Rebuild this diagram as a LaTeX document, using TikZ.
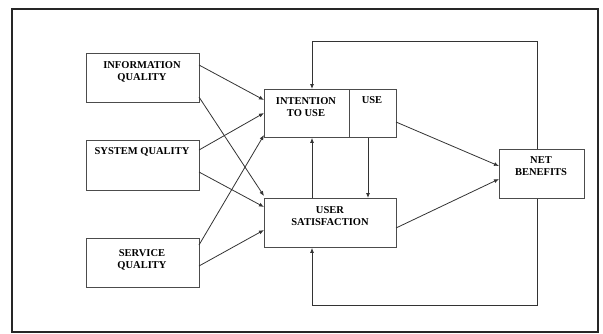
\documentclass[tikz,border=0pt]{standalone}
\usepackage{fontspec}
\setmainfont{Liberation Serif}
\usetikzlibrary{arrows.meta}
\begin{document}
\begin{tikzpicture}[x=1pt,y=-1pt,
  box/.style={draw=black!70,line width=0.9pt,inner sep=0pt},
  lbl/.style={font=\bfseries\fontsize{10.5}{12}\selectfont,align=center},
  arr/.style={draw=black!80,line width=0.8pt,-{Latex[length=5pt,width=4pt]}}]
\useasboundingbox (0,0) rectangle (603,333);
\draw[line width=1.2pt,black!85] (12,9) rectangle (598,332);
% left boxes
\node[box,minimum width=113pt,minimum height=49pt,anchor=north west] (iq) at (86,53) {};
\node[lbl] at (142,72) {INFORMATION\\QUALITY};
\node[box,minimum width=113pt,minimum height=50pt,anchor=north west] (sq) at (86,140) {};
\node[lbl] at (142,152) {SYSTEM QUALITY};
\node[box,minimum width=113pt,minimum height=49pt,anchor=north west] (svq) at (86,238) {};
\node[lbl] at (142,260) {SERVICE\\QUALITY};
% intention / use
\node[box,minimum width=85pt,minimum height=48pt,anchor=north west] (itu) at (264,89) {};
\node[box,minimum width=47pt,minimum height=48pt,anchor=north west] (use) at (349,89) {};
\node[lbl] at (306,107) {INTENTION\\TO USE};
\node[lbl] at (372,100) {USE};
% user satisfaction
\node[box,minimum width=132pt,minimum height=49pt,anchor=north west] (us) at (264,198) {};
\node[lbl] at (330,216) {USER\\SATISFACTION};
% net benefits
\node[box,minimum width=85pt,minimum height=49pt,anchor=north west] (nb) at (499,149) {};
\node[lbl] at (541,166) {NET\\BENEFITS};
% coordinates
\coordinate (iqa) at (199,65); \coordinate (iqb) at (199,97);
\coordinate (sqa) at (199,150); \coordinate (sqb) at (199,172);
\coordinate (sva) at (199,245); \coordinate (svb) at (199,266);
\coordinate (ita) at (264,100); \coordinate (itb) at (264,113); \coordinate (itc) at (264,135);
\coordinate (usa) at (264,196); \coordinate (usb) at (264,207); \coordinate (usc) at (264,230);
\draw[arr] (iqa) -- (ita);
\draw[arr] (iqb) -- (usa);
\draw[arr] (sqa) -- (itb);
\draw[arr] (sqb) -- (usb);
\draw[arr] (sva) -- (itc);
\draw[arr] (svb) -- (usc);
% to net benefits
\coordinate (ur) at (396,122); \coordinate (nba) at (499,166);
\coordinate (usr) at (396,228); \coordinate (nbb) at (499,179);
\draw[arr] (ur) -- (nba);
\draw[arr] (usr) -- (nbb);
% between intention and satisfaction
\draw[arr] (us.north -| 312,0) -- (itu.south -| 312,0);
\draw[arr] (use.south -| 368,0) -- (us.north -| 368,0);
% feedback loops
\coordinate (tl) at (312,41); \coordinate (tr) at (537,41);
\coordinate (bl) at (312,305); \coordinate (br) at (537,305);
\draw[arr] (nb.north -| tr) -- (tr) -- (tl) -- (itu.north -| tl);
\draw[arr] (nb.south -| br) -- (br) -- (bl) -- (us.south -| bl);
\end{tikzpicture}
\end{document}
